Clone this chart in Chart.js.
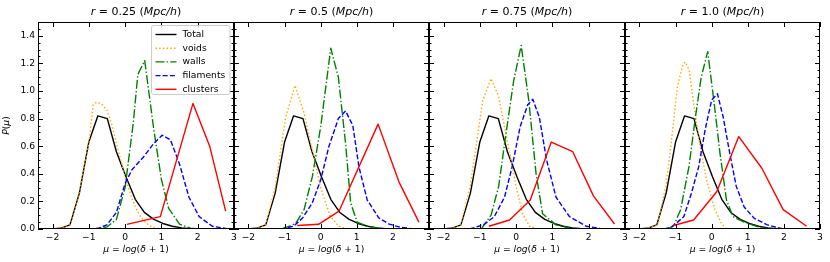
<!DOCTYPE html>
<html>
<head>
<meta charset="utf-8">
<script src="https://cdn.jsdelivr.net/npm/chart.js@4.4.0/dist/chart.umd.min.js"></script>
<style>
  body { margin: 0; background: #fff; }
  #wrap { position: relative; width: 830px; height: 262px; overflow: hidden; }
  .panel { position: absolute; top: 0; }
</style>
</head>
<body>
<div id="wrap"></div>
<script>
// ---- data ----
var radii = ['0.25', '0.5', '0.75', '1.0'];
var seriesNames = ['Total', 'voids', 'walls', 'filaments', 'clusters'];
var xTicks = [-2, -1, 0, 1, 2, 3];
var yTicks = [0, 0.2, 0.4, 0.6, 0.8, 1.0, 1.2, 1.4];

// total density distribution (same in every panel)
var totalX = [-2.03, -1.78, -1.52, -1.26, -1.0, -0.75, -0.49, -0.24, 0.02, 0.28, 0.53, 0.79, 1.04, 1.3, 1.56, 1.81, 2.07, 2.32];
var totalY = [0, 0.005, 0.03, 0.26, 0.63, 0.82, 0.80, 0.56, 0.38, 0.215, 0.12, 0.07, 0.04, 0.02, 0.008, 0.003, 0.001, 0];

// r = 0.25
var voidsX1 = [-2.03, -1.78, -1.52, -1.26, -1.0, -0.88, -0.78, -0.62, -0.5, -0.37, -0.24, -0.11, 0.02, 0.15, 0.28, 0.4, 0.55, 0.7, 0.85, 1.0];
var voidsY1 = [0, 0.005, 0.03, 0.27, 0.62, 0.9, 0.92, 0.9, 0.86, 0.76, 0.62, 0.49, 0.36, 0.25, 0.16, 0.1, 0.05, 0.02, 0.005, 0];
var wallsX1 = [-1.0, -0.75, -0.5, -0.24, 0.0, 0.23, 0.35, 0.54, 0.79, 1.0, 1.2, 1.5, 1.8, 2.1];
var wallsY1 = [0, 0.003, 0.015, 0.07, 0.3, 0.78, 1.12, 1.22, 0.72, 0.36, 0.15, 0.035, 0.006, 0];
var filX1 = [-1.0, -0.74, -0.5, -0.24, 0.0, 0.19, 0.5, 0.79, 1.02, 1.25, 1.5, 1.76, 2.04, 2.4, 2.8];
var filY1 = [0, 0.005, 0.03, 0.12, 0.33, 0.43, 0.52, 0.62, 0.68, 0.645, 0.47, 0.23, 0.09, 0.02, 0.003];
var cluX1 = [0.05, 0.97, 1.87, 2.33, 2.77];
var cluY1 = [0.034, 0.09, 0.91, 0.6, 0.13];

// r = 0.5
var voidsX2 = [-2.03, -1.78, -1.52, -1.26, -0.97, -0.71, -0.46, -0.23, 0.0, 0.25, 0.5, 0.75];
var voidsY2 = [0, 0.005, 0.03, 0.3, 0.81, 1.04, 0.84, 0.57, 0.3, 0.1, 0.02, 0];
var wallsX2 = [-1.06, -0.69, -0.46, -0.23, 0.0, 0.28, 0.49, 0.69, 0.83, 1.01, 1.3, 1.6, 1.9];
var wallsY2 = [0, 0.04, 0.14, 0.38, 0.74, 1.31, 1.10, 0.62, 0.19, 0.05, 0.02, 0.005, 0];
var filX2 = [-1.1, -0.75, -0.5, -0.23, 0.0, 0.23, 0.49, 0.69, 0.89, 1.06, 1.29, 1.61, 1.9, 2.17, 2.5];
var filY2 = [0, 0.02, 0.08, 0.19, 0.355, 0.6, 0.80, 0.855, 0.75, 0.45, 0.21, 0.08, 0.035, 0.015, 0.003];
var cluX2 = [-0.65, -0.06, 0.51, 1.59, 2.17, 2.72];
var cluY2 = [0.025, 0.034, 0.13, 0.76, 0.34, 0.05];

// r = 0.75
var voidsX3 = [-2.03, -1.78, -1.52, -1.26, -0.92, -0.69, -0.48, -0.23, 0.0, 0.18, 0.37, 0.6];
var voidsY3 = [0, 0.005, 0.03, 0.32, 0.93, 1.09, 0.96, 0.62, 0.31, 0.11, 0.02, 0];
var wallsX3 = [-0.96, -0.69, -0.48, -0.28, -0.07, 0.14, 0.35, 0.55, 0.73, 1.1, 1.5, 1.9];
var wallsY3 = [0, 0.10, 0.31, 0.69, 1.07, 1.33, 0.93, 0.40, 0.11, 0.03, 0.005, 0];
var filX3 = [-1.28, -0.9, -0.6, -0.32, -0.11, 0.11, 0.32, 0.46, 0.64, 0.84, 1.1, 1.47, 1.93, 2.3];
var filY3 = [0, 0.03, 0.09, 0.23, 0.45, 0.74, 0.90, 0.94, 0.81, 0.5, 0.23, 0.09, 0.02, 0.005];
var cluX3 = [-0.75, -0.18, 0.39, 0.97, 1.56, 2.13, 2.71];
var cluY3 = [0.02, 0.065, 0.21, 0.63, 0.56, 0.24, 0.036];

// r = 1.0
var voidsX4 = [-1.85, -1.5, -1.27, -1.13, -0.95, -0.8, -0.73, -0.62, -0.5, -0.32, -0.14, 0.09, 0.27, 0.4];
var voidsY4 = [0, 0.03, 0.31, 0.6, 1.03, 1.19, 1.21, 1.15, 0.91, 0.6, 0.355, 0.14, 0.04, 0];
var wallsX4 = [-1.2, -1.04, -0.86, -0.63, -0.45, -0.29, -0.11, 0.07, 0.23, 0.41, 0.59, 0.9, 1.27, 1.63];
var wallsY4 = [0, 0.03, 0.14, 0.45, 0.81, 1.10, 1.285, 0.91, 0.55, 0.21, 0.09, 0.05, 0.017, 0];
var filX4 = [-1.31, -1.09, -0.77, -0.56, -0.36, -0.18, 0.0, 0.16, 0.32, 0.5, 0.68, 0.9, 1.18, 1.54, 1.99];
var filY4 = [0, 0.017, 0.09, 0.26, 0.45, 0.72, 0.935, 0.98, 0.81, 0.55, 0.31, 0.16, 0.077, 0.03, 0];
var cluX4 = [-1.06, -0.5, 0.14, 0.75, 1.39, 1.98, 2.63];
var cluY4 = [0.025, 0.065, 0.27, 0.67, 0.44, 0.14, 0.02];

var panels = [
  [[totalX, totalY], [voidsX1, voidsY1], [wallsX1, wallsY1], [filX1, filY1], [cluX1, cluY1]],
  [[totalX, totalY], [voidsX2, voidsY2], [wallsX2, wallsY2], [filX2, filY2], [cluX2, cluY2]],
  [[totalX, totalY], [voidsX3, voidsY3], [wallsX3, wallsY3], [filX3, filY3], [cluX3, cluY3]],
  [[totalX, totalY], [voidsX4, voidsY4], [wallsX4, wallsY4], [filX4, filY4], [cluX4, cluY4]]
];

// ---- styles ----
var colors = ['#000000', '#FFA500', '#008000', '#0000FF', '#FF0000'];
var dashes = [[], [1.4, 2.3], [9, 2.2, 1.4, 2.2], [5, 2.2], []];
var FONT = '"DejaVu Sans", sans-serif';
var FS = 9.2;

// placement of each axes box on the page
var plotLefts = [38, 234, 429, 625];
var plotRights = [234, 429, 625, 820];
var PLOT_TOP = 22, PLOT_BOTTOM = 229;

function toPoints(xs, ys) {
  var pts = [];
  for (var i = 0; i < xs.length; i++) pts.push({ x: xs[i], y: ys[i] });
  return pts;
}

function fmtMinus(v) {
  return v < 0 ? '\u2212' + Math.abs(v) : String(v);
}

// draw text made of upright / italic pieces, centred on cx
function drawMixed(ctx, parts, cx, cy, size) {
  var w = 0;
  parts.forEach(function (p) {
    ctx.font = (p[1] ? 'italic ' : '') + size + 'px ' + FONT;
    w += ctx.measureText(p[0]).width;
  });
  var x = cx - w / 2;
  ctx.textAlign = 'left';
  ctx.textBaseline = 'middle';
  ctx.fillStyle = '#000';
  parts.forEach(function (p) {
    ctx.font = (p[1] ? 'italic ' : '') + size + 'px ' + FONT;
    ctx.fillText(p[0], x, cy);
    x += ctx.measureText(p[0]).width;
  });
}

// frame, inward ticks, titles
var decorPlugin = {
  id: 'decor',
  afterDraw: function (chart) {
    var ctx = chart.ctx, a = chart.chartArea;
    var xs = chart.scales.x, ys = chart.scales.y;
    ctx.save();
    ctx.strokeStyle = '#000';
    ctx.lineWidth = 1;
    ctx.setLineDash([]);
    ctx.strokeRect(a.left + 0.5, a.top + 0.5, a.right - a.left - 1, a.bottom - a.top - 1);

    ctx.beginPath();
    xTicks.forEach(function (v) {
      var px = Math.round(xs.getPixelForValue(v)) + 0.5;
      ctx.moveTo(px, a.bottom); ctx.lineTo(px, a.bottom - 5);
      ctx.moveTo(px, a.top); ctx.lineTo(px, a.top + 5);
    });
    for (var k = 0; k <= 30; k++) {
      var v = k * 0.05;
      var py = Math.round(ys.getPixelForValue(v)) + 0.5;
      var len = (k % 4 === 0) ? 5 : 2.5;
      ctx.moveTo(a.left, py); ctx.lineTo(a.left + len, py);
      ctx.moveTo(a.right, py); ctx.lineTo(a.right - len, py);
    }
    ctx.stroke();

    var cx = (a.left + a.right) / 2;
    var r = chart.options.plugins.decor.radius;
    drawMixed(ctx, [['r', true], [' = ' + r + ' (', false], ['Mpc/h', true], [')', false]], cx, 12.5, 11);
    drawMixed(ctx, [['\u03bc', true], [' = ', false], ['log', true], ['(', false], ['\u03b4', true], [' + 1)', false]], cx, 249.5, FS);

    if (chart.options.plugins.decor.first) {
      ctx.save();
      ctx.translate(7, (a.top + a.bottom) / 2);
      ctx.rotate(-Math.PI / 2);
      drawMixed(ctx, [['P', true], ['(', false], ['\u03bc', true], [')', false]], 0, 0, FS);
      ctx.restore();
      drawLegend(chart);
    }
    ctx.restore();
  }
};

function drawLegend(chart) {
  var ctx = chart.ctx, a = chart.chartArea;
  var bx = 151.5, by = 25.5, bw = a.right - 4 - bx, bh = 69, rad = 2;
  ctx.save();
  ctx.beginPath();
  ctx.moveTo(bx + rad, by);
  ctx.lineTo(bx + bw - rad, by);
  ctx.arcTo(bx + bw, by, bx + bw, by + rad, rad);
  ctx.lineTo(bx + bw, by + bh - rad);
  ctx.arcTo(bx + bw, by + bh, bx + bw - rad, by + bh, rad);
  ctx.lineTo(bx + rad, by + bh);
  ctx.arcTo(bx, by + bh, bx, by + bh - rad, rad);
  ctx.lineTo(bx, by + rad);
  ctx.arcTo(bx, by, bx + rad, by, rad);
  ctx.closePath();
  ctx.fillStyle = 'rgba(255,255,255,0.8)';
  ctx.fill();
  ctx.strokeStyle = '#cccccc';
  ctx.lineWidth = 1;
  ctx.stroke();

  chart.data.datasets.forEach(function (ds, i) {
    var y = by + 9 + i * 13.7;
    ctx.beginPath();
    ctx.strokeStyle = ds.borderColor;
    ctx.lineWidth = ds.borderWidth;
    ctx.setLineDash(ds.borderDash);
    ctx.moveTo(bx + 4, y);
    ctx.lineTo(bx + 25, y);
    ctx.stroke();
    ctx.setLineDash([]);
    ctx.fillStyle = '#000';
    ctx.font = FS + 'px ' + FONT;
    ctx.textAlign = 'left';
    ctx.textBaseline = 'middle';
    ctx.fillText(ds.label, bx + 31, y);
  });
  ctx.restore();
}

function makePanel(i) {
  var padL = i === 0 ? 38 : 14;
  var padR = 10;
  var plotW = plotRights[i] - plotLefts[i];
  var div = document.createElement('div');
  div.className = 'panel';
  div.style.left = (plotLefts[i] - padL) + 'px';
  var canvas = document.createElement('canvas');
  canvas.width = plotW + padL + padR;
  canvas.height = 262;
  div.appendChild(canvas);
  document.getElementById('wrap').appendChild(div);

  var datasets = panels[i].map(function (s, k) {
    return {
      label: seriesNames[k],
      data: toPoints(s[0], s[1]),
      borderColor: colors[k],
      borderDash: dashes[k],
      borderWidth: 1.4,
      borderCapStyle: 'butt',
      borderJoinStyle: 'round',
      pointRadius: 0,
      tension: 0,
      fill: false,
      order: 5 - k
    };
  });

  new Chart(canvas.getContext('2d'), {
    type: 'line',
    data: { datasets: datasets },
    options: {
      responsive: false,
      animation: false,
      devicePixelRatio: 1,
      layout: { padding: { left: i === 0 ? 0 : padL, right: padR, top: PLOT_TOP, bottom: 0 } },
      plugins: {
        legend: { display: false },
        tooltip: { enabled: false },
        decor: { radius: radii[i], first: i === 0 }
      },
      scales: {
        x: {
          type: 'linear',
          min: -2.4,
          max: 3,
          afterBuildTicks: function (s) { s.ticks = xTicks.map(function (v) { return { value: v }; }); },
          afterFit: function (s) { s.height = 262 - PLOT_BOTTOM; },
          grid: { display: false, drawTicks: false },
          border: { display: false },
          ticks: {
            padding: 3,
            maxRotation: 0,
            autoSkip: false,
            color: '#000',
            font: { family: FONT, size: FS },
            callback: function (v) { return fmtMinus(v); }
          }
        },
        y: {
          type: 'linear',
          display: i === 0,
          min: 0,
          max: 1.5,
          afterBuildTicks: function (s) { s.ticks = yTicks.map(function (v) { return { value: v }; }); },
          afterFit: function (s) { s.width = i === 0 ? 38 : 0; },
          grid: { display: false, drawTicks: false },
          border: { display: false },
          ticks: {
            padding: 3,
            color: '#000',
            font: { family: FONT, size: FS },
            callback: function (v) { return v.toFixed(1); }
          }
        }
      }
    },
    plugins: [decorPlugin]
  });
}

for (var p = 0; p < 4; p++) makePanel(p);
</script>
</body>
</html>
